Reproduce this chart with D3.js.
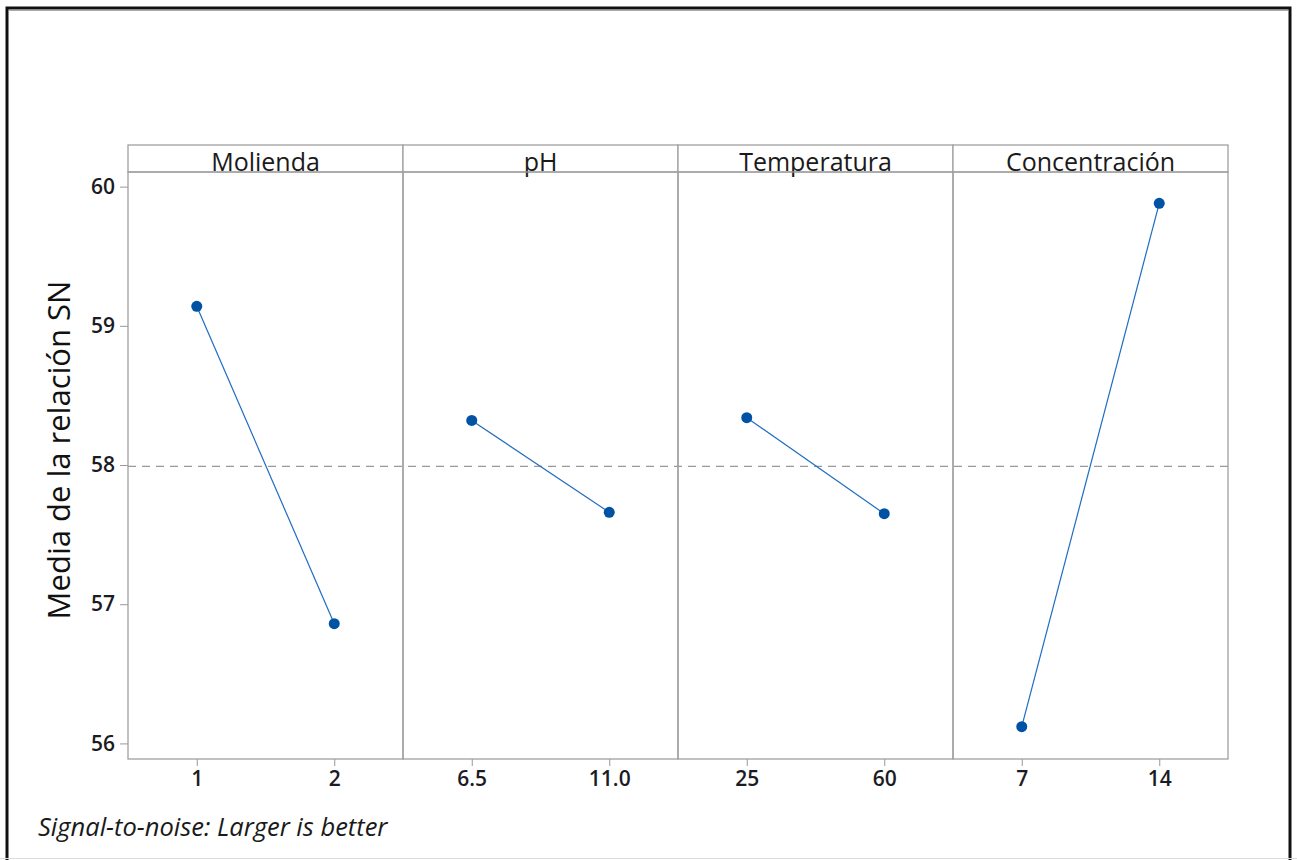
<!DOCTYPE html>
<html>
<head>
<meta charset="utf-8">
<script src="https://cdn.jsdelivr.net/npm/d3@7"></script>
<style>
  body { margin: 0; background: #fff; }
  svg { display: block; }
  .tick text { font-family: "Open Sans", sans-serif; font-weight: 600; fill: #1b1b24; }
</style>
</head>
<body>
<div id="chart"></div>
<script>
var width = 1297;
var height = 860;

// factors and their levels
var factors = ['Molienda', 'pH', 'Temperatura', 'Concentración'];
var levels = [['1', '2'], ['6.5', '11.0'], ['25', '60'], ['7', '14']];
// mean S/N ratio at each level
var snMeans = [[59.14, 56.86], [58.32, 57.66], [58.34, 57.65], [56.12, 59.88]];
var grandMean = 57.99;
var yTicks = [56, 57, 58, 59, 60];

var plotLeft = 128, plotRight = 1228;
var headerTop = 145, plotTop = 172, plotBottom = 759;
var panelW = (plotRight - plotLeft) / factors.length;

var svg = d3.select('#chart').append('svg')
    .attr('width', width)
    .attr('height', height);

// outer frame
svg.append('rect')
    .attr('x', 7).attr('y', 8)
    .attr('width', 1283).attr('height', 860)
    .attr('fill', 'none')
    .attr('stroke', '#111')
    .attr('stroke-width', 3);
svg.append('line')
    .attr('x1', 9).attr('x2', 1288).attr('y1', 10.5).attr('y2', 10.5)
    .attr('stroke', '#aaa');
svg.append('line')
    .attr('x1', 0).attr('x2', width).attr('y1', 858.5).attr('y2', 858.5)
    .attr('stroke', '#ddd');

var y = d3.scaleLinear()
    .domain([55.888, 60.105])
    .range([plotBottom, plotTop]);

// y axis
var yAxis = svg.append('g')
    .attr('transform', 'translate(' + plotLeft + ',0)')
    .call(d3.axisLeft(y).tickValues(yTicks).tickFormat(d3.format('d'))
        .tickSize(8).tickPadding(5));
yAxis.select('.domain').remove();
yAxis.selectAll('.tick line').attr('stroke', '#999');
yAxis.selectAll('.tick text').style('font-size', '21px');

svg.append('text')
    .attr('transform', 'translate(70,450) rotate(-90)')
    .attr('text-anchor', 'middle')
    .style('font-family', '"Open Sans", sans-serif')
    .style('font-size', '31px')
    .style('fill', '#111')
    .text('Media de la relación SN');

// grand mean reference
svg.append('line')
    .attr('x1', plotLeft).attr('x2', plotRight)
    .attr('y1', y(grandMean)).attr('y2', y(grandMean))
    .attr('stroke', '#999')
    .attr('stroke-width', 1.2)
    .attr('stroke-dasharray', '8,6');

factors.forEach(function (f, i) {
    var x0 = plotLeft + i * panelW;
    var g = svg.append('g').attr('transform', 'translate(' + x0 + ',0)');

    var x = d3.scalePoint()
        .domain(levels[i])
        .range([0, panelW])
        .padding(0.5);

    // header strip
    g.append('rect')
        .attr('x', 0).attr('y', headerTop)
        .attr('width', panelW).attr('height', plotTop - headerTop)
        .attr('fill', '#fff')
        .attr('stroke', '#a0a0a0')
        .attr('stroke-width', 1.3);
    g.append('text')
        .attr('x', panelW / 2)
        .attr('y', plotTop - 1)
        .attr('text-anchor', 'middle')
        .style('font-family', '"Open Sans", sans-serif')
        .style('font-size', '25px')
        .style('fill', '#1a1a1a')
        .text(f);

    // panel box
    g.append('rect')
        .attr('x', 0).attr('y', plotTop)
        .attr('width', panelW).attr('height', plotBottom - plotTop)
        .attr('fill', 'none')
        .attr('stroke', '#a0a0a0')
        .attr('stroke-width', 1.3);

    // x axis
    var xAxis = g.append('g')
        .attr('transform', 'translate(0,' + plotBottom + ')')
        .call(d3.axisBottom(x).tickSize(7).tickPadding(5));
    xAxis.select('.domain').remove();
    xAxis.selectAll('.tick line').attr('stroke', '#999');
    xAxis.selectAll('.tick text').style('font-size', '21px');

    var pts = levels[i].map(function (l, j) {
        return { level: l, value: snMeans[i][j] };
    });

    g.append('path')
        .datum(pts)
        .attr('fill', 'none')
        .attr('stroke', '#1f6cc0')
        .attr('stroke-width', 1.2)
        .attr('d', d3.line()
            .x(function (d) { return x(d.level); })
            .y(function (d) { return y(d.value); }));

    g.selectAll('circle')
        .data(pts)
        .enter().append('circle')
        .attr('cx', function (d) { return x(d.level); })
        .attr('cy', function (d) { return y(d.value); })
        .attr('r', 5.5)
        .attr('fill', '#0052a5');
});

svg.append('text')
    .attr('x', 38)
    .attr('y', 836)
    .style('font-family', '"Open Sans", sans-serif')
    .style('font-style', 'italic')
    .style('font-size', '25.5px')
    .style('fill', '#1a1a1a')
    .text('Signal-to-noise: Larger is better');
</script>
</body>
</html>
